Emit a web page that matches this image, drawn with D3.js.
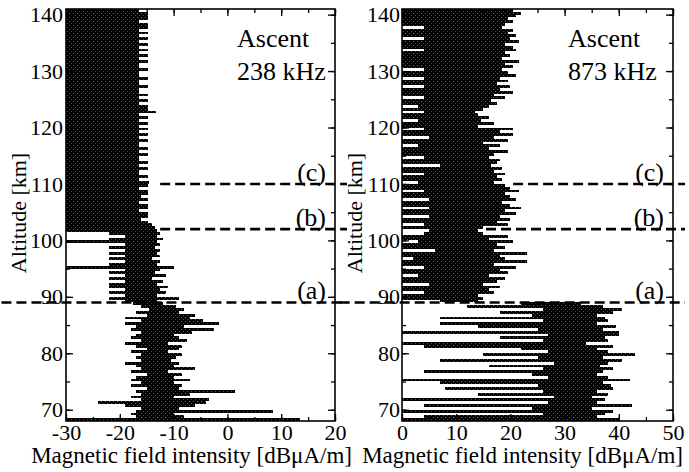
<!DOCTYPE html>
<html lang="en">
<head>
<meta charset="utf-8">
<title>Ascent: magnetic field intensity vs altitude</title>
<script src="https://cdn.jsdelivr.net/npm/d3@7"></script>
<style>
  body { margin: 0; background: #fff; }
  svg text { font-family: "Liberation Serif", "DejaVu Serif", serif; fill: #000; }
</style>
</head>
<body>
<script>
// ---- data (0.5 km rows, lower edge of each row) ----
var altitudes = [68,68.5,69,69.5,70,70.5,71,71.5,72,72.5,73,73.5,74,74.5,75,75.5,76,76.5,77,77.5,
  78,78.5,79,79.5,80,80.5,81,81.5,82,82.5,83,83.5,84,84.5,85,85.5,86,86.5,87,87.5,88,88.5,
  89,89.5,90,90.5,91,91.5,92,92.5,93,93.5,94,94.5,95,95.5,96,96.5,97,97.5,98,98.5,99,99.5,100,100.5,101,101.5,
  102,102.5,103,103.5,104,104.5,105,105.5,106,106.5,107,107.5,108,108.5,109,109.5,110,110.5,111,111.5,
  112,112.5,113,113.5,114,114.5,115,115.5,116,116.5,117,117.5,118,118.5,119,119.5,120,120.5,121,121.5,
  122,122.5,123,123.5,124,124.5,125,125.5,126,126.5,127,127.5,128,128.5,129,129.5,130,130.5,131,131.5,
  132,132.5,133,133.5,134,134.5,135,135.5,136,136.5,137,137.5,138,138.5,139,139.5,140,140.5];

// 238 kHz: min and max of the trace inside each row [dBuA/m]
var low238 = [-30,-17,-18,-17,-16,-19,-24,-16,-18,-16,-17,-15,-18,-16,-18,-17,-15,-18,-16,-17,
  -19,-16,-17,-16,-18,-15,-17,-19,-16,-18,-17,-16,-18,-17,-19,-16,-19,-15,-17,-14.5,-16,-17.5,
  -19,-22,-19,-22,-19,-22,-22,-19,-22,-19,-22,-19,-30,-22,-19,-22,-19,-22,-19,-22,-19,-30,-22,-19,-22,-30,
  -30,-30,-30,-30,-30,-30,-30,-30,-30,-30,-30,-30,-30,-30,-30,-30,-30,-30,-30,-30,
  -30,-30,-30,-30,-30,-30,-30,-30,-30,-30,-30,-30,-30,-30,-30,-30,-30,-30,-30,-30,
  -30,-30,-30,-30,-30,-30,-30,-30,-30,-30,-30,-30,-30,-30,-30,-30,-30,-30,-30,-30,
  -30,-30,-30,-30,-30,-30,-30,-30,-30,-30,-30,-30,-30,-30,-30,-30,-30,-30];
var high238 = [13.5,-8,-10,8.5,-9,-6,-4,-3.5,-10,-7,1.5,-9,-8.5,-10,-7,-10,-8.5,-11,-6,-10,
  -9,-10.5,-9.5,-8.5,-11,-9,-8.5,-11,-7.5,-9,-10,-6.5,-2.5,-8,-1.5,-4.5,-7,-6,-9,-8,-9.5,-12,
  -13,-9,-13,-11.5,-12.5,-11,-13,-12,-14,-11.5,-13.5,-12.5,-10,-13,-12.5,-14,-12.5,-13,-12.5,-13.5,-12.5,-13,-12,-13,-12.5,-13,
  -13.5,-14,-14.7,-16,-14.7,-14.7,-16.5,-14.7,-14.7,-16.5,-14.7,-16,-14.7,-14.7,-16.5,-14.7,-14.5,-16.5,-14.7,-16.5,
  -16.5,-14.7,-16.5,-14.7,-16.5,-16.5,-14.7,-16.5,-14.7,-16.5,-16.5,-14.7,-16.5,-14.7,-16.5,-14.7,-16.5,-14.7,-16.5,-14.7,
  -16.5,-13.3,-14.7,-14.7,-16.5,-14.7,-16.5,-14.7,-16.5,-16.5,-14.7,-16.5,-16.5,-14.7,-16.5,-16.5,-14.7,-16.5,-16.5,-14.7,
  -16.5,-14.7,-16.5,-14.7,-16.5,-14.7,-16.5,-14.7,-16.5,-14.7,-16.5,-14.7,-14.7,-16.5,-14.7,-14.7,-14.7,-16.5];

// 873 kHz
var low873 = [0,4,26,0,24,4,27,0,28,14,26,8,25,7,0,27,24,4,26,16,
  28,7,25,15,27,22,4,0,26,18,27,0,25,14,7,26,7,24,18,26,12,22,
  7,0,0,4,0,0,5,0,0,3,0,0,4,0,0,2,0,0,6,0,0,3,0,0,4,5,
  0,4,0,0,5,0,0,5,0,0,5,0,0,4,0,0,3,0,0,4,
  0,0,7,0,0,4,0,0,0,3,0,0,5,0,0,4,0,0,3,0,
  0,4,0,3,0,0,4,0,0,0,4,0,0,4,0,0,4,0,0,0,
  0,0,0,4,0,0,0,4,0,0,0,4,0,0,0,0,0,0];
var high873 = [40,36,37.5,39,35,42.5,36,37.5,35,38,36,39,38.5,37,42,38,36,37,39,36.5,
  38,40.5,37,43,38,36,39,34,38,37.5,40,40,37,39.5,36,38,37.5,36,39,40.5,37,33,
  14,15,14,17,16,18,15,17.5,19,16,19.5,18,21,17,23,19,18,23,17,19,17.5,20.5,16,19.5,15,14,
  15,19.5,17.5,20,18,21,19,22,20,18.5,21,20,19,21.5,20,19,17,18.5,17.5,19,
  17,18.5,16.5,17.5,18,16,17,19.5,16,18,15,19.5,17,20.5,18,20.5,14,17,14.5,16,
  14,13.5,15,16,17.5,16.5,19,17,20.5,18,20,17.5,19.5,18,21,19.5,18.5,20.5,19,21.5,
  18.5,20,19,21,20.5,19,21.5,20,21,19.5,20.5,18.5,19,20.5,19.5,21,22,20.5];

var xTicks238 = [-30,-20,-10,0,10,20];
var xTicks873 = [0,10,20,30,40,50];
var yTicks = [70,80,90,100,110,120,130,140];
var markerAlts = [89,102,110];
var markerNames = ["(a)","(b)","(c)"];
var markerStart238 = [-42,-12.5,-12.5];
var markerStart873 = [-11.5,15.5,20.5];
var freqNames = ["238 kHz","873 kHz"];

// ---- layout ----
var W = 689, H = 472;
var yTop = 9, yBot = 421;
var rowStep = 0.5;
var serif = '"Liberation Serif", "DejaVu Serif", serif';

var svg = d3.select("body").append("svg")
  .attr("width", W).attr("height", H);

var defs = svg.append("defs");
var pat = defs.append("pattern").attr("id", "stip")
  .attr("width", 4).attr("height", 4).attr("patternUnits", "userSpaceOnUse");
pat.append("rect").attr("width", 4).attr("height", 4).attr("fill", "#000");
pat.append("rect").attr("x", 1).attr("y", 1).attr("width", 1).attr("height", 1).attr("fill", "#6a6a6a");
pat.append("rect").attr("x", 3).attr("y", 3).attr("width", 1).attr("height", 1).attr("fill", "#4a4a4a");

var y = d3.scaleLinear().domain([68, 141]).range([yBot, yTop]);

var panels = [
  { id: "p238", left: 66, right: 335, domain: [-30, 20], low: low238, high: high238,
    ticks: xTicks238, markStart: markerStart238, freq: freqNames[0],
    textX: 237, titleX: 26, xLabelEnd: 352, pad: 3 },
  { id: "p873", left: 402, right: 673, domain: [0, 50], low: low873, high: high873,
    ticks: xTicks873, markStart: markerStart873, freq: freqNames[1],
    textX: 568, titleX: 362, xLabelEnd: 683, pad: 2 }
];

panels.forEach(function(p) {
  var x = d3.scaleLinear().domain(p.domain).range([p.left, p.right]);
  var minor = d3.range(p.domain[0], p.domain[1] + 0.1, 5);
  var yMinor = d3.range(70, 141, 5);

  defs.append("clipPath").attr("id", "clip-" + p.id)
    .append("rect").attr("x", p.left).attr("y", yTop)
    .attr("width", p.right - p.left).attr("height", yBot - yTop);

  var rows = altitudes.map(function(a, i) {
    return { alt: a, lo: p.low[i], hi: p.high[i] };
  });

  svg.append("g").attr("clip-path", "url(#clip-" + p.id + ")")
    .selectAll("rect").data(rows).enter().append("rect")
    .attr("x", function(d) { return x(d.lo); })
    .attr("width", function(d) { return Math.max(0, x(d.hi) - x(d.lo)); })
    .attr("y", function(d) { return y(d.alt + rowStep); })
    .attr("height", function(d) { return y(d.alt) - y(d.alt + rowStep); })
    .attr("fill", "url(#stip)")
    .attr("shape-rendering", "crispEdges");

  // axes, ticks pointing inward on all four sides
  var gB = svg.append("g").attr("transform", "translate(0," + yBot + ")")
    .call(d3.axisBottom(x).tickValues(p.ticks).tickSize(-7).tickPadding(3));
  svg.append("g").attr("transform", "translate(0," + yBot + ")")
    .call(d3.axisBottom(x).tickValues(minor).tickSize(-4).tickFormat(""));
  svg.append("g").attr("transform", "translate(0," + yTop + ")")
    .call(d3.axisTop(x).tickValues(p.ticks).tickSize(-7).tickFormat(""));
  svg.append("g").attr("transform", "translate(0," + yTop + ")")
    .call(d3.axisTop(x).tickValues(minor).tickSize(-4).tickFormat(""));

  var gL = svg.append("g").attr("transform", "translate(" + p.left + ",0)")
    .call(d3.axisLeft(y).tickValues(yTicks).tickSize(-7).tickPadding(p.pad));
  svg.append("g").attr("transform", "translate(" + p.left + ",0)")
    .call(d3.axisLeft(y).tickValues(yMinor).tickSize(-4).tickFormat(""));
  svg.append("g").attr("transform", "translate(" + p.right + ",0)")
    .call(d3.axisRight(y).tickValues(yTicks).tickSize(-7).tickFormat(""));
  svg.append("g").attr("transform", "translate(" + p.right + ",0)")
    .call(d3.axisRight(y).tickValues(yMinor).tickSize(-4).tickFormat(""));

  svg.selectAll(".domain").remove();
  svg.selectAll(".tick line").attr("stroke", "#000").attr("stroke-width", 1.3);
  [gB, gL].forEach(function(g) {
    g.attr("font-family", null).attr("font-size", null);
    g.selectAll("text").style("font-size", "22px").style("font-family", serif);
  });
  gB.selectAll("text").text(function(d) { return d < 0 ? "-" + Math.abs(d) : d; });

  svg.append("rect").attr("x", p.left).attr("y", yTop)
    .attr("width", p.right - p.left).attr("height", yBot - yTop)
    .attr("fill", "none").attr("stroke", "#000").attr("stroke-width", 1.6);

  // event markers
  markerAlts.forEach(function(a, i) {
    svg.append("line")
      .attr("x1", x(p.markStart[i])).attr("x2", p.right + 12)
      .attr("y1", y(a)).attr("y2", y(a))
      .attr("stroke", "#000").attr("stroke-width", 2.6)
      .attr("stroke-dasharray", "10,5");
    svg.append("text")
      .attr("x", p.right - 9).attr("y", y(a) - 3)
      .attr("text-anchor", "end").style("font-size", "26px").style("font-family", serif)
      .text(markerNames[i]);
  });

  svg.append("text").attr("x", p.textX).attr("y", 47)
    .style("font-size", "26px").style("font-family", serif).text("Ascent");
  svg.append("text").attr("x", p.textX).attr("y", 80)
    .style("font-size", "26px").style("font-family", serif).text(p.freq);

  svg.append("text")
    .attr("transform", "translate(" + p.titleX + "," + 213 + ") rotate(-90)")
    .attr("text-anchor", "middle").style("font-size", "22px").style("font-family", serif)
    .text("Altitude [km]");

  svg.append("text").attr("x", p.xLabelEnd).attr("y", 463)
    .attr("text-anchor", "end").style("font-size", "23px").style("font-family", serif)
    .text("Magnetic field intensity [dB\u03bcA/m]");
});
</script>
</body>
</html>
